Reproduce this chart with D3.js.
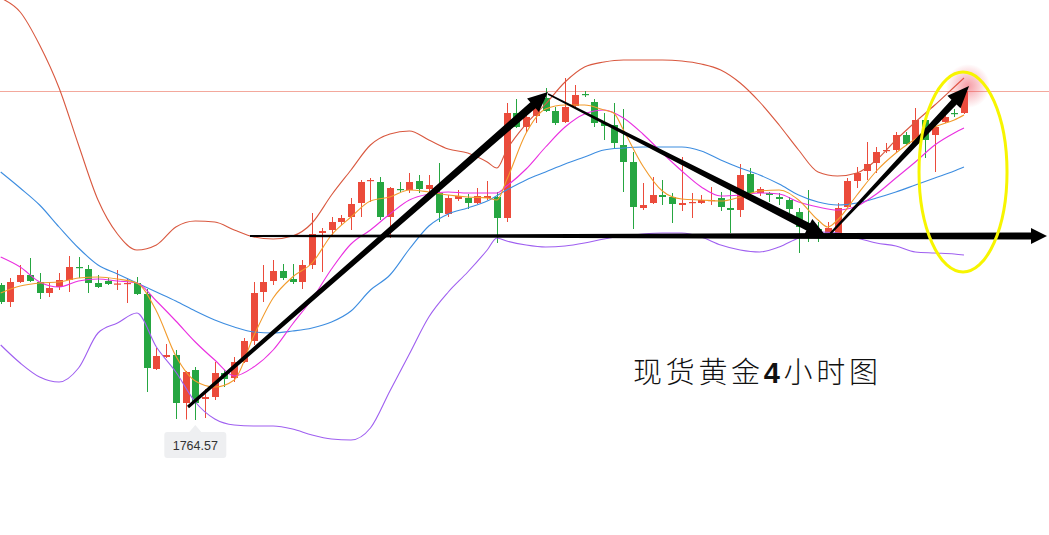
<!DOCTYPE html>
<html><head><meta charset="utf-8">
<script src="https://cdn.jsdelivr.net/npm/d3@7"></script>
<style>html,body{margin:0;padding:0;background:#fff;overflow:hidden}</style>
</head><body><svg id="c" width="1049" height="535"></svg>
<script>
// ---- candle data (4h spot gold) ----
const opens = [1791.57,1788.17,1792.17,1793.57,1792.17,1789.97,1791.17,1792.57,1795.17,1794.77,
1791.97,1792.37,1791.67,1791.77,1791.97,1789.77,1774.77,1777.17,1777.57,1767.97,
1774.57,1768.77,1769.17,1773.97,1772.97,1776.17,1780.37,1790.17,1792.37,1794.37,
1792.77,1792.17,1795.57,1801.97,1802.57,1804.17,1805.17,1807.97,1812.37,1812.17,
1805.17,1810.77,1810.57,1812.37,1810.77,1809.97,1805.77,1808.77,1808.97,1807.97,
1808.97,1809.17,1804.97,1825.97,1823.17,1825.37,1828.97,1826.37,1824.17,1827.37,
1829.77,1828.17,1823.97,1823.57,1819.57,1816.17,1806.97,1807.97,1809.57,1809.17,
1807.57,1807.97,1807.97,1808.37,1808.97,1806.97,1806.57,1813.77,1809.97,1809.97,
1809.17,1808.57,1806.17,1803.77,1802.77,1801.97,1801.97,1807.17,1812.37,1814.37,
1815.97,1818.37,1818.57,1821.57,1819.97,1824.57,1821.57,1824.17,1825.97,1825.97];
const highs = [1791.97,1792.97,1795.57,1796.97,1793.97,1791.97,1793.97,1797.37,1797.17,1795.57,
1793.57,1792.97,1794.57,1792.97,1793.17,1790.77,1778.97,1779.77,1778.57,1774.37,
1775.17,1770.77,1776.17,1774.57,1777.17,1780.97,1792.17,1795.57,1796.57,1795.77,
1795.77,1796.57,1805.97,1802.97,1805.17,1805.57,1808.97,1812.57,1812.97,1813.17,
1811.17,1812.17,1813.97,1813.57,1813.57,1815.97,1809.57,1810.57,1809.77,1810.97,
1812.37,1810.17,1827.97,1828.77,1827.17,1829.17,1830.97,1827.17,1832.97,1831.57,
1830.37,1828.77,1825.97,1827.97,1826.77,1818.17,1811.97,1813.17,1812.57,1809.97,
1817.17,1809.97,1809.57,1811.17,1810.17,1810.57,1815.77,1814.97,1811.17,1810.17,
1809.97,1809.17,1806.97,1810.57,1804.17,1804.17,1807.97,1812.97,1815.17,1820.17,
1819.17,1819.97,1822.17,1822.17,1826.97,1824.77,1823.57,1825.97,1826.77,1830.77];
const lows = [1787.77,1787.17,1791.97,1792.17,1788.77,1789.17,1790.57,1790.17,1792.97,1789.97,
1790.97,1791.57,1790.57,1787.97,1789.57,1770.17,1774.57,1776.97,1764.77,1764.67,
1764.57,1764.97,1768.57,1771.17,1772.17,1775.97,1779.57,1788.17,1791.57,1792.57,
1791.77,1790.77,1794.77,1794.17,1801.57,1803.57,1802.57,1805.17,1808.17,1804.57,
1800.97,1810.17,1809.97,1809.97,1809.77,1804.17,1805.17,1808.37,1806.77,1807.77,
1808.57,1799.97,1804.17,1822.97,1822.17,1823.97,1826.17,1823.57,1823.97,1827.17,
1829.17,1823.17,1820.57,1818.97,1810.17,1802.77,1806.57,1807.77,1807.57,1803.97,
1806.37,1804.97,1807.77,1807.57,1806.37,1801.97,1805.17,1809.77,1809.37,1808.17,
1807.57,1805.97,1797.97,1800.17,1800.17,1801.77,1801.77,1806.97,1810.97,1812.57,
1813.97,1817.97,1818.17,1819.57,1819.77,1816.97,1814.17,1823.97,1825.17,1825.77];
const closes = [1788.17,1792.17,1793.57,1792.37,1789.97,1790.97,1792.57,1795.17,1794.97,1791.97,
1791.17,1791.77,1791.87,1791.97,1789.77,1774.97,1777.37,1777.57,1767.97,1774.17,
1767.97,1769.17,1773.97,1772.77,1776.17,1780.37,1789.97,1792.17,1794.37,1792.97,
1792.17,1795.57,1801.77,1802.37,1804.17,1804.97,1807.77,1812.17,1812.57,1805.17,
1810.97,1810.57,1812.17,1810.77,1811.57,1805.97,1808.97,1809.37,1807.97,1809.37,
1809.37,1804.97,1825.97,1823.17,1825.17,1827.17,1826.37,1823.97,1827.17,1829.57,
1829.57,1823.97,1823.37,1819.97,1816.17,1807.17,1807.57,1809.57,1809.17,1807.77,
1807.97,1808.17,1808.57,1808.57,1807.17,1806.57,1813.57,1809.97,1810.77,1809.57,
1808.77,1806.77,1803.17,1802.57,1802.17,1802.97,1806.97,1812.37,1813.97,1815.77,
1818.17,1818.57,1821.57,1819.77,1824.57,1820.57,1823.17,1825.17,1825.77,1830.37];

// ---- indicator lines: [candle index, price] ----
const bollUpper = [[0,1848.97],[2,1846.17],[4,1839.57],[6,1830.97],[8,1819.57],[10,1808.57],[12,1801.77],[14,1798.57],[16,1799.57],[18,1803.17],
[20,1804.37],[22,1804.17],[24,1802.57],[26,1801.17],[28,1800.77],[30,1801.37],[32,1803.97],[34,1809.57],[36,1814.57],[38,1819.57],
[40,1821.77],[42,1822.37],[44,1820.57],[46,1818.77],[48,1817.97],[50,1816.17],[51,1814.97],[52,1818.57],[54,1823.77],[56,1827.77],
[58,1832.17],[60,1835.17],[62,1836.17],[64,1836.57],[66,1836.57],[68,1836.57],[70,1836.37],[72,1835.77],[74,1834.57],[76,1831.97],
[78,1828.17],[80,1823.57],[82,1818.57],[84,1814.17],[86,1813.37],[88,1813.97],[90,1816.57],[92,1820.57],[94,1824.17],[96,1827.57],
[98,1831.17],[99,1832.97]];
const bollMid = [[0,1814.17],[2,1810.97],[4,1807.57],[6,1803.17],[8,1798.97],[10,1795.57],[12,1793.77],[14,1791.97],[16,1790.17],[18,1788.37],
[20,1786.37],[22,1784.57],[24,1783.17],[26,1782.17],[28,1781.97],[30,1782.37],[32,1782.97],[34,1784.17],[36,1786.37],[38,1790.57],
[40,1793.57],[42,1798.77],[44,1803.37],[46,1805.77],[48,1806.97],[50,1808.37],[52,1810.57],[54,1812.57],[56,1814.17],[58,1815.77],
[60,1817.17],[62,1818.57],[64,1818.97],[66,1819.17],[68,1819.17],[70,1819.17],[72,1818.37],[74,1816.57],[76,1814.97],[78,1813.57],
[80,1811.77],[82,1809.57],[84,1808.17],[86,1807.57],[88,1807.97],[90,1808.97],[92,1810.17],[94,1811.57],[96,1812.97],[98,1814.37],[99,1815.17]];
const bollLower = [[0,1779.57],[2,1775.97],[4,1773.17],[6,1772.17],[8,1774.97],[10,1781.97],[12,1783.97],[14,1785.97],[16,1779.17],[18,1774.17],
[20,1768.17],[22,1764.77],[24,1763.57],[26,1763.37],[28,1763.37],[30,1762.77],[32,1761.57],[34,1760.77],[36,1760.57],[38,1762.97],
[40,1770.37],[42,1777.77],[44,1785.17],[46,1790.17],[48,1794.17],[50,1798.57],[51,1800.97],[52,1800.37],[54,1799.57],[56,1799.17],
[58,1799.37],[60,1799.97],[62,1800.77],[64,1801.37],[66,1801.77],[68,1801.97],[70,1801.97],[72,1801.17],[74,1799.57],[76,1798.57],
[78,1798.17],[80,1799.17],[82,1800.97],[84,1802.17],[86,1801.97],[88,1800.97],[90,1799.97],[92,1799.37],[94,1798.17],[96,1797.97],
[98,1797.77],[99,1797.57]];
const ma5 = [[0,1789.97],[2,1791.37],[4,1791.97],[6,1792.17],[8,1792.97],[10,1793.17],[12,1792.77],[14,1791.97],[16,1786.37],[18,1777.37],
[20,1772.37],[22,1771.17],[24,1772.57],[26,1781.37],[28,1788.97],[30,1793.17],[32,1795.97],[34,1801.57],[36,1805.17],[38,1808.37],
[40,1809.17],[42,1810.57],[44,1810.17],[46,1809.57],[48,1809.17],[50,1808.97],[51,1808.57],[52,1812.57],[54,1821.97],[56,1826.77],
[58,1827.57],[60,1827.57],[62,1826.57],[63,1825.97],[64,1822.57],[66,1815.37],[68,1810.37],[70,1808.77],[72,1808.57],[74,1808.37],
[76,1809.17],[78,1810.37],[80,1810.57],[82,1808.57],[84,1804.57],[85,1803.17],[86,1804.57],[88,1809.57],[90,1814.37],[92,1817.97],
[94,1820.77],[96,1823.17],[98,1824.57],[99,1825.57]];
const ma10 = [[0,1797.17],[2,1795.17],[4,1792.17],[6,1791.17],[8,1792.37],[10,1792.77],[12,1792.37],[14,1791.97],[16,1788.37],[18,1784.37],
[20,1780.17],[22,1776.57],[24,1773.37],[26,1775.17],[28,1778.57],[30,1783.77],[32,1788.77],[34,1794.77],[36,1799.77],[38,1802.57],
[40,1805.77],[42,1808.57],[44,1809.77],[46,1810.17],[48,1809.97],[50,1809.97],[51,1809.97],[52,1811.37],[54,1814.77],[56,1819.17],
[58,1823.17],[60,1825.77],[62,1826.57],[64,1824.97],[66,1821.77],[68,1817.97],[70,1814.37],[72,1811.17],[74,1809.37],[76,1809.57],
[78,1809.97],[80,1809.77],[82,1808.17],[84,1807.17],[86,1806.57],[88,1807.37],[90,1809.77],[92,1812.97],[94,1816.17],[96,1819.57],
[98,1821.97],[99,1822.97]];

const lastPrice = 1830.37;
const title = ["现货黄金", "4", "小时图"];

// ---- trend arrows (candle index, price) ----
const arrowFrom = [[19.25,1767.17],[56.25,1829.77],[25.62,1801.37],[85.23,1801.77]];
const arrowTo   = [[56.25,1830.17],[84.82,1801.37],[107.53,1801.37],[99.52,1831.37]];
const focus = [98.9, 1814.17];

const W = 1049, H = 535;
const svg = d3.select("#c");
const x = d3.scaleLinear().domain([0, 99]).range([0.7, 964]);
const y = d3.scaleLinear().domain([1741.57, 1848.57]).range([H, 0]);

const RED = "#eb4b3b", GREEN = "#26a641";

// current price line
svg.append("line").attr("x1", 0).attr("x2", W)
  .attr("y1", Math.round(y(lastPrice)) + 0.5).attr("y2", Math.round(y(lastPrice)) + 0.5)
  .attr("stroke", "#f3a89c").attr("stroke-width", 1);

// candles
const idx = d3.range(opens.length);
const g = svg.append("g");
const bw = 7;
idx.forEach(i => {
  const up = closes[i] >= opens[i];
  const col = up ? RED : GREEN;
  const cx = Math.round(x(i)) + 0.5;
  g.append("line").attr("x1", cx).attr("x2", cx)
    .attr("y1", y(highs[i])).attr("y2", y(lows[i]))
    .attr("stroke", col).attr("stroke-width", 1);
  const top = y(Math.max(opens[i], closes[i]));
  const bot = y(Math.min(opens[i], closes[i]));
  g.append("rect").attr("x", cx - bw / 2).attr("y", top)
    .attr("width", bw).attr("height", Math.max(1.2, bot - top))
    .attr("fill", col);
});

// indicator lines
const line = d3.line().x(d => x(d[0])).y(d => y(d[1])).curve(d3.curveMonotoneX);
[[bollUpper, "#d9583f"], [bollMid, "#3d8de0"], [bollLower, "#9f5ff0"],
 [ma10, "#ea2fe0"], [ma5, "#f29b2c"]].forEach(([data, col]) => {
  svg.append("path").datum(data).attr("d", line)
    .attr("fill", "none").attr("stroke", col).attr("stroke-width", 1.1);
});

// glow at last price
const defs = svg.append("defs");
const rg = defs.append("radialGradient").attr("id", "glow");
rg.append("stop").attr("offset", "0%").attr("stop-color", "#ee4a5a").attr("stop-opacity", 0.55);
rg.append("stop").attr("offset", "100%").attr("stop-color", "#ee4a5a").attr("stop-opacity", 0);
svg.append("circle").attr("cx", x(99) + 4).attr("cy", y(lastPrice) - 5).attr("r", 22)
  .attr("fill", "url(#glow)");

// arrows
const spec = [[3, 8, 20, 9], [1.5, 8, 20, 9], [2, 7, 16, 8], [2, 7, 22, 9]];
arrowFrom.forEach((f, k) => {
  const sx = x(f[0]), sy = y(f[1]);
  const ex = x(arrowTo[k][0]), ey = y(arrowTo[k][1]);
  const [w0, w1, hl, hw] = spec[k];
  const dx = ex - sx, dy = ey - sy, len = Math.hypot(dx, dy);
  const ux = dx / len, uy = dy / len, nx = -uy, ny = ux;
  const bx = ex - ux * hl, by = ey - uy * hl;
  const pts = [
    [sx + nx * w0 / 2, sy + ny * w0 / 2],
    [bx + nx * w1 / 2, by + ny * w1 / 2],
    [bx + nx * hw, by + ny * hw],
    [ex, ey],
    [bx - nx * hw, by - ny * hw],
    [bx - nx * w1 / 2, by - ny * w1 / 2],
    [sx - nx * w0 / 2, sy - ny * w0 / 2]];
  svg.append("path").attr("d", "M" + pts.map(p => p.join(",")).join("L") + "Z").attr("fill", "#000");
});

// yellow focus ellipse
svg.append("ellipse").attr("cx", x(focus[0])).attr("cy", y(focus[1]))
  .attr("rx", 44).attr("ry", 100).attr("fill", "none")
  .attr("stroke", "#f7f500").attr("stroke-width", 3);

// low tooltip
const minI = d3.minIndex(lows);
const tx = x(minI), ty = y(lows[minI]);
const tip = svg.append("g").attr("transform", `translate(${tx},${ty})`);
tip.append("path").attr("d", "M0,5L6,12L-6,12Z").attr("fill", "#eeeff1");
tip.append("rect").attr("x", -31).attr("y", 12).attr("width", 62).attr("height", 26)
  .attr("rx", 3).attr("fill", "#eeeff1");
tip.append("text").attr("x", 0).attr("y", 30).attr("text-anchor", "middle")
  .attr("font-family", "Liberation Sans, Arial, sans-serif").attr("font-size", 12.5)
  .attr("fill", "#333").text(d3.format(".2f")(lows[minI]));

// title
const t = svg.append("text").attr("x", 633).attr("y", 383)
  .attr("font-family", "'Noto Sans CJK SC Light', 'Noto Sans CJK SC', sans-serif")
  .attr("font-weight", 300).attr("font-size", 29)
  .attr("fill", "#111").attr("textLength", 245).attr("lengthAdjust", "spacing");
t.append("tspan").text(title[0]);
t.append("tspan").attr("font-family", "Liberation Sans, Arial, sans-serif").attr("font-weight", "bold").text(title[1]);
t.append("tspan").text(title[2]);
</script>
</body></html>
